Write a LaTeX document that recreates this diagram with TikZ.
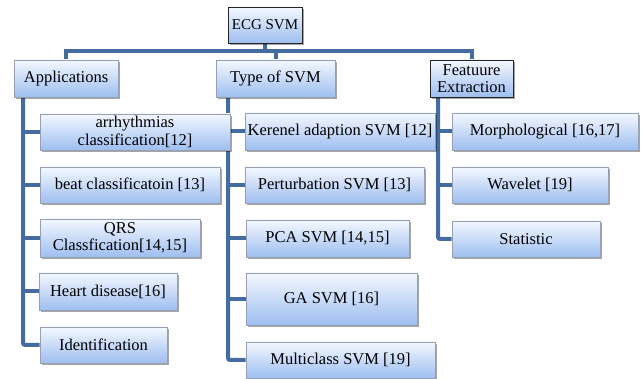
\documentclass[tikz,border=0pt]{standalone}
\usepackage{fontspec}
\setmainfont{Liberation Serif}
\usetikzlibrary{shadows,backgrounds}
\definecolor{linkblue}{RGB}{68,108,160}
\definecolor{boxtop}{RGB}{244,248,255}
\definecolor{boxbot}{RGB}{158,190,240}
\definecolor{boxedge}{RGB}{150,160,178}
\tikzset{
  item/.style={draw=boxedge, line width=0.8pt, top color=boxtop, bottom color=boxbot,
    align=center, inner sep=2pt, font=\fontsize{16.5}{17.5}\selectfont,
    drop shadow={shadow xshift=2pt, shadow yshift=-2pt, fill=black, opacity=0.35}},
  keybox/.style={item, draw=black!85},
  link/.style={draw=linkblue, line width=4pt},
}
\begin{document}
\begin{tikzpicture}[x=1pt,y=-1pt]
\useasboundingbox (0,0) rectangle (641,379);

% boxes
\node[keybox, minimum width=74pt, minimum height=36pt, font=\fontsize{15}{17}\selectfont] (root) at (265,25) {ECG SVM};
\node[item, minimum width=104pt, minimum height=37pt] (app) at (66,78.5) {Applications};
\node[item, minimum width=119pt, minimum height=37pt] (type) at (275.5,78.5) {Type of SVM};
\node[keybox, minimum width=83pt, minimum height=37pt] (feat) at (471.5,78.5) {Featuure\\Extraction};

\node[item, minimum width=190pt, minimum height=36pt] (arr) at (135,132) {arrhythmias\\classification[12]};
\node[item, minimum width=180pt, minimum height=36pt] (beat) at (130,185) {beat classificatoin [13]};
\node[item, minimum width=160pt, minimum height=38pt] (qrs) at (120,238) {QRS\\Classfication[14,15]};
\node[item, minimum width=138pt, minimum height=37pt] (heart) at (108,291.5) {Heart disease[16]};
\node[item, minimum width=127pt, minimum height=36pt] (ident) at (103.5,345) {Identification};

\node[item, minimum width=190pt, minimum height=37pt] (kern) at (340,131.5) {Kerenel adaption SVM [12]};
\node[item, minimum width=179pt, minimum height=36pt] (pert) at (334.5,185) {Perturbation SVM [13]};
\node[item, minimum width=163pt, minimum height=37pt] (pca) at (327.5,238.5) {PCA SVM [14,15]};
\node[item, minimum width=171pt, minimum height=52pt] (ga) at (331.5,299) {GA SVM [16]};
\node[item, minimum width=189pt, minimum height=36pt] (multi) at (340.5,360) {Multiclass SVM [19]};

\node[item, minimum width=186pt, minimum height=37pt] (morph) at (545,131.5) {Morphological [16,17]};
\node[item, minimum width=156pt, minimum height=36pt] (wave) at (530,185) {Wavelet [19]};
\node[item, minimum width=148pt, minimum height=36pt] (stat) at (526,239) {Statistic};

% connectors, drawn behind the boxes
\begin{scope}[on background layer]
  % bus from the root to the three categories
  \draw[link] (root.south) -- ++(0,8) coordinate (bus);
  \draw[link] (app.north) |- (bus) -| (feat.north);
  \draw[link] (bus) -| (type.north);

  % spines of the three columns
  \coordinate (sa) at ([xshift=-43pt]app.south);
  \coordinate (st) at ([xshift=-47.5pt]type.south);
  \coordinate (sf) at ([xshift=-33.5pt]feat.south);

  \draw[link, rounded corners=2pt] (sa) |- (ident.west);
  \foreach \n in {arr,beat,qrs,heart}
    \draw[link] (sa |- \n.west) -- (\n.west);

  \draw[link, rounded corners=2pt] (st) |- (multi.west);
  \foreach \n in {kern,pert,pca,ga}
    \draw[link] (st |- \n.west) -- (\n.west);

  \draw[link, rounded corners=2pt] (sf) |- (stat.west);
  \foreach \n in {morph,wave}
    \draw[link] (sf |- \n.west) -- (\n.west);
\end{scope}
\end{tikzpicture}
\end{document}
